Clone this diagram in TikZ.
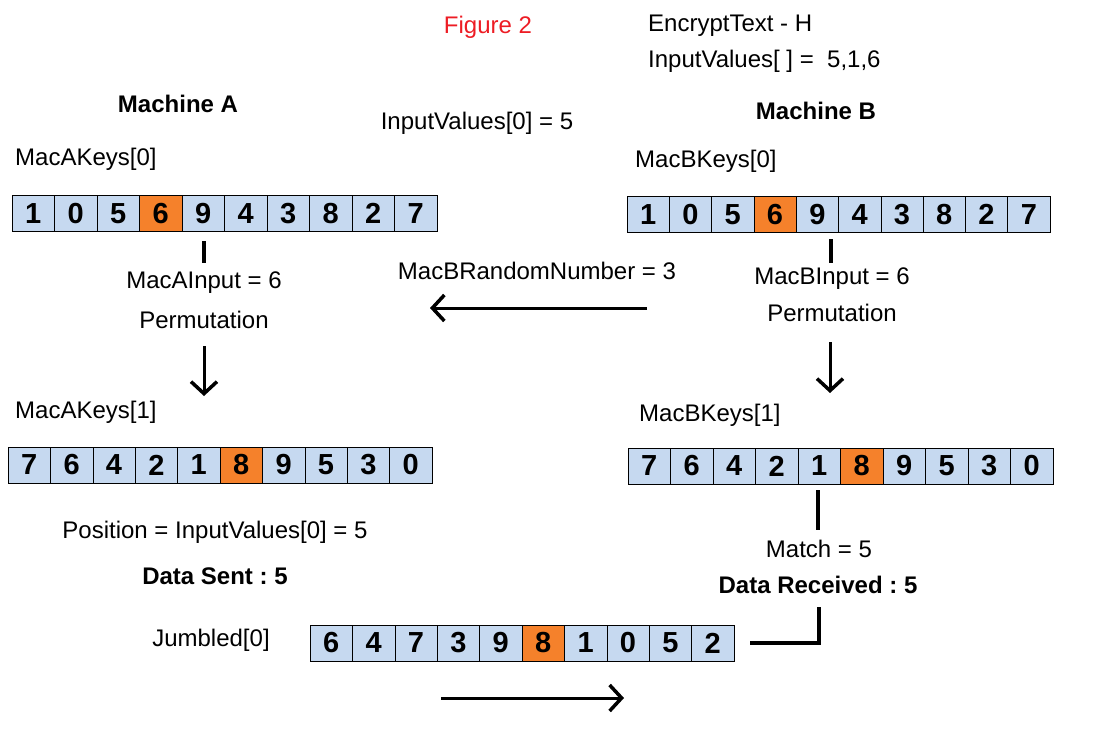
\documentclass[tikz,border=0pt]{standalone}
\usepackage{fontspec}
\setmainfont{Liberation Sans}
\usetikzlibrary{arrows.meta}
\definecolor{cellblue}{RGB}{198,217,240}
\definecolor{hotcell}{RGB}{245,129,43}
\definecolor{figred}{RGB}{237,28,36}
\frenchspacing
\begin{document}
\begin{tikzpicture}[x=1pt,y=-1pt]
\tikzstyle{every node}=[inner sep=0pt, font=\fontsize{24}{28}\selectfont]
\tikzstyle{cell}=[draw, fill=cellblue, minimum width=42.4pt, minimum height=36pt, font=\fontsize{29}{30}\selectfont\bfseries]
\tikzstyle{hot}=[cell, fill=hotcell]
\tikzstyle{bold}=[font=\fontsize{24}{28}\selectfont\bfseries]
\tikzstyle{tick}=[line width=4pt]
\tikzstyle{flow}=[line width=3pt, -{Straight Barb[length=12pt,width=26pt,line width=3.5pt]}]
\useasboundingbox (0,0) rectangle (1108,744);
% arrays
\foreach \v/\s [count=\i] in {1/cell,0/cell,5/cell,6/hot,9/cell,4/cell,3/cell,8/cell,2/cell,7/cell}
  \draw (12+42.5*\i-21.25,213.5) node (a0c\i) [\s] {\v};
\foreach \v/\s [count=\i] in {1/cell,0/cell,5/cell,6/hot,9/cell,4/cell,3/cell,8/cell,2/cell,7/cell}
  \draw (627+42.3*\i-21.15,214.5) node (b0c\i) [\s] {\v};
\foreach \v/\s [count=\i] in {7/cell,6/cell,4/cell,2/cell,1/cell,8/hot,9/cell,5/cell,3/cell,0/cell}
  \draw (8+42.4*\i-21.2,465) node (a1c\i) [\s] {\v};
\foreach \v/\s [count=\i] in {7/cell,6/cell,4/cell,2/cell,1/cell,8/hot,9/cell,5/cell,3/cell,0/cell}
  \draw (628+42.5*\i-21.25,466) node (b1c\i) [\s] {\v};
\foreach \v/\s [count=\i] in {6/cell,4/cell,7/cell,3/cell,9/cell,8/hot,1/cell,0/cell,5/cell,2/cell}
  \draw (310+42.4*\i-21.2,643) node (jc\i) [\s] {\v};
% texts
\draw (488,27) node (fig) [text=figred] {Figure 2};
\draw (648,26) node (enc) [anchor=west] {EncryptText - H};
\draw (648,61) node (inv) [anchor=west] {InputValues[ ] =\ \ 5,1,6};
\draw (178,104) node (maca) [bold] {Machine A};
\draw (816,111) node (macb) [bold] {Machine B};
\draw (477,123) node (inv0) {InputValues[0] = 5};
\draw (15,159) node (ak0) [anchor=west] {MacAKeys[0]};
\draw (635,161) node (bk0) [anchor=west] {MacBKeys[0]};
\draw (537,271) node (rnd) {MacBRandomNumber = 3};
\draw (204,283) node (ain) {MacAInput = 6};
\draw (204,320) node (aperm) {Permutation};
\draw (832,279) node (bin) {MacBInput = 6};
\draw (832,313) node (bperm) {Permutation};
\draw (15,412) node (ak1) [anchor=west] {MacAKeys[1]};
\draw (639,415) node (bk1) [anchor=west] {MacBKeys[1]};
\draw (215,532) node (pos) {Position = InputValues[0] = 5};
\draw (215,576) node (sent) [bold] {Data Sent : 5};
\draw (819,549) node (match) {Match = 5};
\draw (818,585) node (recv) [bold] {Data Received : 5};
\draw (211,640) node (jum) {Jumbled[0]};
% connector ends
\coordinate (at0) at (204,241);  \coordinate (at1) at (204,263);
\coordinate (bt0) at (831,239);  \coordinate (bt1) at (831,263);
\coordinate (ad0) at (204,346);  \coordinate (ad1) at (204,396);
\coordinate (bd0) at (830,342);  \coordinate (bd1) at (830,393);
\coordinate (r0) at (647,308);   \coordinate (r1) at (430,308);
\coordinate (mt0) at (818,490);  \coordinate (mt1) at (818,530);
\coordinate (l0) at (819,607);   \coordinate (l1) at (750,643);
\coordinate (s0) at (441,698);   \coordinate (s1) at (624,698);
\draw [tick] (at0) -- (at1);
\draw [tick] (bt0) -- (bt1);
\draw [tick] (mt0) -- (mt1);
\draw [tick] (l0) |- (l1);
\draw [flow] (ad0) -- (ad1);
\draw [flow] (bd0) -- (bd1);
\draw [flow] (r0) -- (r1);
\draw [flow] (s0) -- (s1);
\end{tikzpicture}
\end{document}
